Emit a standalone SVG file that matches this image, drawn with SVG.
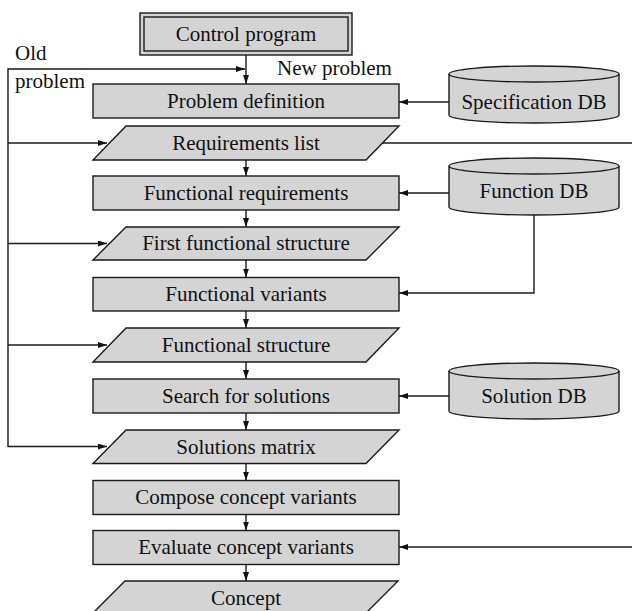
<svg xmlns="http://www.w3.org/2000/svg" width="632" height="611" viewBox="0 0 632 611">
<defs>
<style>
.box{fill:#d4d4d4;stroke:#1a1a1a;stroke-width:1.4}
.ln{fill:none;stroke:#1a1a1a;stroke-width:1.4}
text{font-family:"Liberation Serif","Times New Roman",serif;font-size:21px;fill:#111}
.c{text-anchor:middle}
</style>
<marker id="ah" viewBox="0 0 9 6" refX="9" refY="3" markerWidth="9" markerHeight="6" markerUnits="userSpaceOnUse" orient="auto">
<path d="M0,0 L9,3 L0,6 Z" fill="#111"/>
</marker>
</defs>
<rect width="632" height="611" fill="#fff"/>

<g id="connectors">
<path class="ln" d="M246,55 L246,84" marker-end="url(#ah)"/>
<path class="ln" d="M8,447 L8,69 L245,69" marker-end="url(#ah)"/>
<path class="ln" d="M8,143 L107,143" marker-end="url(#ah)"/>
<path class="ln" d="M8,243.5 L107,243.5" marker-end="url(#ah)"/>
<path class="ln" d="M8,345 L107,345" marker-end="url(#ah)"/>
<path class="ln" d="M8,446.5 L107,446.5" marker-end="url(#ah)"/>
<path class="ln" d="M382,143 L632,143"/>
<path class="ln" d="M246,160 L246,176" marker-end="url(#ah)"/>
<path class="ln" d="M246,210 L246,227" marker-end="url(#ah)"/>
<path class="ln" d="M246,260 L246,277.5" marker-end="url(#ah)"/>
<path class="ln" d="M246,311 L246,328" marker-end="url(#ah)"/>
<path class="ln" d="M246,362 L246,379" marker-end="url(#ah)"/>
<path class="ln" d="M246,413 L246,430" marker-end="url(#ah)"/>
<path class="ln" d="M246,463.5 L246,480.5" marker-end="url(#ah)"/>
<path class="ln" d="M246,514.5 L246,530.5" marker-end="url(#ah)"/>
<path class="ln" d="M246,564.5 L246,581" marker-end="url(#ah)"/>
<path class="ln" d="M449,102 L399,102" marker-end="url(#ah)"/>
<path class="ln" d="M449,193 L399,193" marker-end="url(#ah)"/>
<path class="ln" d="M534,215 L534,293 L399,293" marker-end="url(#ah)"/>
<path class="ln" d="M449,396 L399,396" marker-end="url(#ah)"/>
<path class="ln" d="M632,547 L399,547" marker-end="url(#ah)"/>
</g>

<g id="control-program">
<rect class="box" x="140" y="13" width="212" height="42"/>
<rect class="box" x="144" y="17" width="204" height="34"/>
<text class="c" x="246" y="41">Control program</text>
</g>
<g id="label-old-problem">
<text x="15" y="60">Old</text>
<text x="15" y="88">problem</text>
</g>
<g id="label-new-problem">
<text x="277" y="75">New problem</text>
</g>

<g id="problem-definition">
<rect class="box" x="93" y="84" width="306" height="34"/>
<text class="c" x="246" y="108">Problem definition</text>
</g>
<g id="requirements-list">
<polygon class="box" points="126,126 399,126 366,160 93,160"/>
<text class="c" x="246" y="150">Requirements list</text>
</g>
<g id="functional-requirements">
<rect class="box" x="93" y="176" width="306" height="34"/>
<text class="c" x="246" y="200">Functional requirements</text>
</g>
<g id="first-functional-structure">
<polygon class="box" points="126,227 399,227 366,260 93,260"/>
<text class="c" x="246" y="250">First functional structure</text>
</g>
<g id="functional-variants">
<rect class="box" x="93" y="277.5" width="306" height="33.5"/>
<text class="c" x="246" y="301">Functional variants</text>
</g>
<g id="functional-structure">
<polygon class="box" points="126,328 399,328 366,362 93,362"/>
<text class="c" x="246" y="352">Functional structure</text>
</g>
<g id="search-for-solutions">
<rect class="box" x="93" y="379" width="306" height="34"/>
<text class="c" x="246" y="403">Search for solutions</text>
</g>
<g id="solutions-matrix">
<polygon class="box" points="126,430 399,430 366,463.5 93,463.5"/>
<text class="c" x="246" y="454">Solutions matrix</text>
</g>
<g id="compose-concept-variants">
<rect class="box" x="93" y="480.5" width="306" height="34"/>
<text class="c" x="246" y="504">Compose concept variants</text>
</g>
<g id="evaluate-concept-variants">
<rect class="box" x="93" y="530.5" width="306" height="34"/>
<text class="c" x="246" y="554">Evaluate concept variants</text>
</g>
<g id="concept">
<polygon class="box" points="125,581 398,581 364,615 91,615"/>
<text class="c" x="246" y="605">Concept</text>
</g>

<g id="specification-db">
<path class="box" d="M449,74 A85,8 0 0,1 619,74 L619,115 A85,8 0 0,1 449,115 Z"/>
<path class="ln" d="M449,74 A85,8 0 0,0 619,74"/>
<text class="c" x="534" y="109">Specification DB</text>
</g>
<g id="function-db">
<path class="box" d="M449,166 A85,8 0 0,1 619,166 L619,207 A85,8 0 0,1 449,207 Z"/>
<path class="ln" d="M449,166 A85,8 0 0,0 619,166"/>
<text class="c" x="534" y="198">Function DB</text>
</g>
<g id="solution-db">
<path class="box" d="M449,371 A85,8 0 0,1 619,371 L619,411 A85,8 0 0,1 449,411 Z"/>
<path class="ln" d="M449,371 A85,8 0 0,0 619,371"/>
<text class="c" x="534" y="403">Solution DB</text>
</g>
</svg>
